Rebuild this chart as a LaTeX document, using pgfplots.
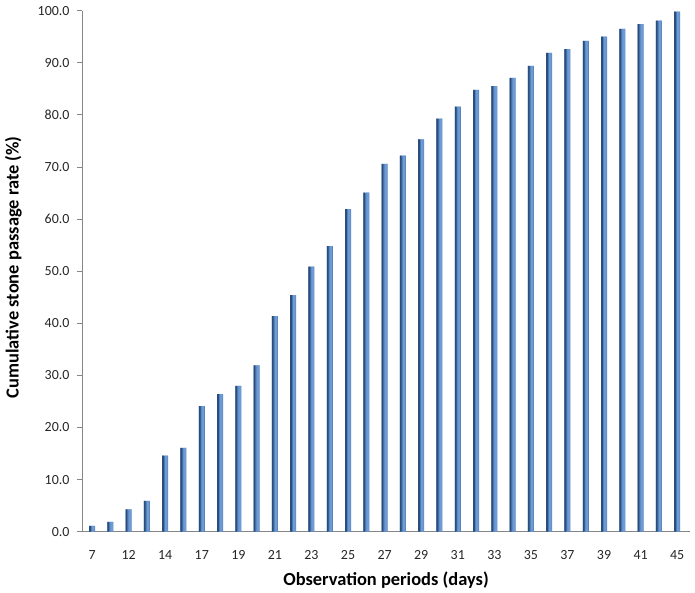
\documentclass[border=0pt]{standalone}
\usepackage{fontspec}
\setmainfont{Carlito}
\usepackage{pgfplots}
\pgfplotsset{compat=1.18}

\definecolor{barblue}{HTML}{4F81BD}
\definecolor{barlight}{HTML}{6E9BD3}
\definecolor{bardark}{HTML}{2C4D7C}
\definecolor{axisgray}{HTML}{868686}

\pgfplotstableread{
idx rate
0 1.1
1 1.9
2 4.3
3 5.9
4 14.6
5 16.1
6 24.1
7 26.4
8 28.0
9 31.9
10 41.4
11 45.4
12 50.9
13 54.8
14 61.9
15 65.1
16 70.6
17 72.2
18 75.3
19 79.3
20 81.6
21 84.8
22 85.5
23 87.1
24 89.4
25 91.9
26 92.6
27 94.2
28 95.0
29 96.5
30 97.4
31 98.1
32 99.8
}\ratetable

\begin{document}
\begin{tikzpicture}
\begin{axis}[
    scale only axis,
    width=608bp, height=521bp,
    xmin=-0.55, xmax=32.7,
    ymin=0, ymax=100,
    axis x line*=bottom,
    axis y line*=left,
    axis line style={axisgray, line width=0.9pt},
    xtick={0,2,...,32},
    xticklabels={7,12,14,17,19,21,23,25,27,29,31,33,35,37,39,41,45},
    xtick style={draw=none},
    ytick={0,10,...,100},
    ytick style={axisgray, line width=0.9pt},
    tick align=outside,
    major tick length=5bp,
    yticklabel={\pgfmathprintnumber[fixed, fixed zerofill, precision=1]{\tick}},
    /pgf/number format/assume math mode=true,
    tick label style={font=\fontsize{14}{16}\selectfont, text=black!85},
    xticklabel style={yshift=-10bp},
    yticklabel style={xshift=-4bp},
    xlabel={\textbf{Observation periods (days)}},
    ylabel={\textbf{Cumulative stone passage rate (\%)}},
    xlabel style={font=\fontsize{18.5}{22}\selectfont, yshift=-6bp},
    ylabel style={font=\fontsize{18.5}{22}\selectfont, yshift=9bp, xshift=4bp},
    clip=false,
]
% bar body
\addplot[ybar, bar width=6bp, fill=barblue, draw=none]
    table[x=idx, y=rate] {\ratetable};
% lighter right half
\addplot[ybar, bar width=2.5bp, bar shift=1.2bp, fill=barlight, draw=none]
    table[x=idx, y=rate] {\ratetable};
% dark left edge
\addplot[ybar, bar width=1.8bp, bar shift=-2.1bp, fill=bardark, draw=none]
    table[x=idx, y=rate] {\ratetable};
\end{axis}
\pgfresetboundingbox
\path (current axis.south west) ++(-82bp,-61.3bp) coordinate (bbsw);
\path (current axis.north east) ++(5bp,10.7bp) coordinate (bbne);
\path[use as bounding box] (bbsw) rectangle (bbne);
\end{tikzpicture}
\end{document}
